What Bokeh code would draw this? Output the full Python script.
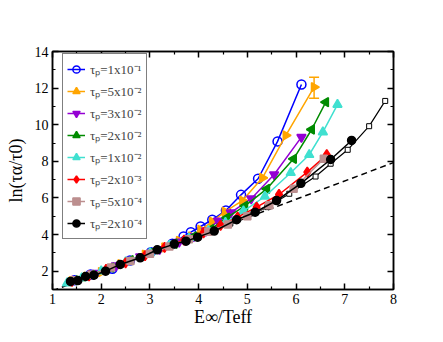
import math
from bokeh.plotting import figure
from bokeh.models import (FixedTicker, LinearAxis, Legend, LegendItem,
                          Range1d, Whisker, ColumnDataSource, TeeHead,
                          CustomJSTickFormatter)
from bokeh.embed import file_html
from bokeh.resources import INLINE

# ---------------- data ----------------
x_1e1 = [1.45, 1.78, 2.23, 2.59, 3.02, 3.46, 3.69, 3.84, 4.04, 4.28, 4.56, 4.87, 5.22, 5.62, 6.11]
y_1e1 = [1.50, 1.82, 2.13, 2.58, 3.04, 3.50, 3.90, 4.13, 4.44, 4.81, 5.32, 6.17, 7.05, 9.09, 12.2]

x_5e2 = [1.40, 1.70, 2.00, 2.40, 2.90, 3.30, 3.60, 3.85, 4.04, 4.28, 4.54, 4.90, 5.31, 5.79, 6.37]
y_5e2 = [1.45, 1.70, 1.95, 2.38, 2.90, 3.30, 3.65, 3.90, 4.26, 4.70, 5.25, 5.86, 7.10, 9.42, 12.05]

x_3e2 = [1.50, 1.90, 2.30, 2.80, 3.20, 3.60, 3.90, 4.15, 4.40, 4.66, 5.08, 5.55, 6.11]
y_3e2 = [1.55, 1.90, 2.30, 2.80, 3.20, 3.60, 3.90, 4.20, 4.75, 5.20, 5.96, 7.28, 9.32]

x_2e2 = [1.45, 1.80, 2.20, 2.60, 3.00, 3.50, 3.90, 4.25, 4.58, 4.95, 5.40, 5.95, 6.32, 6.61]
y_2e2 = [1.50, 1.80, 2.20, 2.60, 3.00, 3.50, 3.90, 4.30, 4.92, 5.57, 6.50, 8.14, 9.74, 11.23]

x_1e2 = [1.30, 1.60, 2.00, 2.50, 3.00, 3.40, 3.80, 4.20, 4.55, 4.92, 5.36, 5.89, 6.27, 6.55, 6.85]
y_1e2 = [1.35, 1.62, 2.00, 2.50, 3.00, 3.40, 3.80, 4.20, 4.65, 5.28, 6.08, 7.38, 8.36, 9.60, 11.1]

x_2e3 = [1.40, 1.75, 2.10, 2.50, 2.90, 3.30, 3.70, 4.10, 4.45, 4.80, 5.19, 5.65, 6.23, 6.63]
y_2e3 = [1.45, 1.75, 2.10, 2.45, 2.85, 3.30, 3.70, 4.10, 4.50, 4.95, 5.50, 6.19, 7.41, 8.36]

x_5e4 = [1.45, 1.80, 2.20, 2.60, 3.00, 3.40, 3.80, 4.20, 4.60, 5.00, 5.45, 5.95, 6.57]
y_5e4 = [1.50, 1.80, 2.20, 2.55, 2.95, 3.35, 3.75, 4.15, 4.55, 5.00, 5.60, 6.50, 8.14]

x_2e4 = [1.37, 1.52, 1.68, 1.85, 2.09, 2.39, 2.80, 3.15, 3.50, 3.74, 3.98, 4.32, 4.78, 5.16, 5.60, 6.10, 6.71, 7.14]
y_2e4 = [1.44, 1.49, 1.71, 1.78, 2.00, 2.37, 2.73, 3.17, 3.48, 3.64, 3.86, 4.19, 4.81, 5.22, 5.86, 6.80, 8.10, 9.14]

x_open = [4.30, 4.65, 5.00, 5.41, 5.86, 6.40, 6.71, 7.06, 7.50, 7.83]
y_open = [4.25, 4.60, 4.98, 5.50, 6.23, 7.17, 7.87, 8.63, 9.92, 11.3]

x_dash = [1.0, 8.0]
y_dash = [0.93, 7.93]

err_x = [6.37]
err_lo = [11.45]
err_hi = [12.6]

labels = ["τₚ=1x10⁻¹", "τₚ=5x10⁻²", "τₚ=3x10⁻²", "τₚ=2x10⁻²",
          "τₚ=1x10⁻²", "τₚ=2x10⁻³", "τₚ=5x10⁻⁴", "τₚ=2x10⁻⁴"]

x_title = "E∞/Teff"
y_title = "ln(τα/τ0)"

x_ticks = [1, 2, 3, 4, 5, 6, 7, 8]
x_minor = [1.5, 2.5, 3.5, 4.5, 5.5, 6.5, 7.5]
y_ticks = [2, 4, 6, 8, 10, 12, 14]
y_minor = [1, 3, 5, 7, 9, 11, 13]

# ---------------- figure ----------------
W, H = 435, 334
BL, BT = 52, 51
FW, FH = 341, 238
BR, BB = W - BL - FW, H - BT - FH
p = figure(width=W, height=H, output_backend="svg", toolbar_location=None,
           x_range=Range1d(1, 8), y_range=Range1d(1, 14),
           min_border_left=BL, min_border_right=BR, min_border_top=BT,
           min_border_bottom=BB, x_axis_location=None, y_axis_location=None)
p.xgrid.visible = False
p.ygrid.visible = False
p.outline_line_color = "black"
p.outline_line_width = 1.5
p.background_fill_color = "white"
p.border_fill_color = "white"

FONT = "Liberation Serif"
blank = CustomJSTickFormatter(code="return ''")

def style_axis(ax, ticks, minor, show_labels):
    ax.ticker = FixedTicker(ticks=ticks, minor_ticks=minor)
    ax.axis_line_width = 1.5
    ax.major_tick_in = 6
    ax.major_tick_out = 0
    ax.minor_tick_in = 3
    ax.minor_tick_out = 0
    ax.major_tick_line_width = 1.5
    ax.minor_tick_line_width = 1.2
    ax.major_label_text_font = FONT
    ax.major_label_text_font_size = "14px"
    ax.major_label_text_color = "black"
    ax.major_label_standoff = 4
    ax.axis_label_text_font = FONT
    ax.axis_label_text_font_size = "18px"
    ax.axis_label_text_font_style = "normal"
    ax.axis_label_text_color = "black"
    if not show_labels:
        ax.formatter = blank

xb = LinearAxis(axis_label=x_title); style_axis(xb, x_ticks, x_minor, True)
xb.axis_label_standoff = 0
p.add_layout(xb, "below")
xt = LinearAxis(); style_axis(xt, x_ticks, x_minor, False); p.add_layout(xt, "above")
yl = LinearAxis(axis_label=y_title); style_axis(yl, y_ticks, y_minor, True)
yl.axis_label_standoff = 6
p.add_layout(yl, "left")
yr = LinearAxis(); style_axis(yr, y_ticks, y_minor, False); p.add_layout(yr, "right")

# dashed reference line
p.line(x_dash, y_dash, line_color="black", line_width=1.5, line_dash="6 4")

# open black series (no legend)
p.line(x_open, y_open, line_color="black", line_width=1.2)
p.scatter(x_open, y_open, marker="square", size=5, fill_color="white",
          line_color="black", line_width=1)

series = [
    (x_1e1, y_1e1, "#0000ff", "circle", 9, 0, False),
    (x_5e2, y_5e2, "#ffa500", "triangle", 9, -math.pi / 2, True),
    (x_3e2, y_3e2, "#9400d3", "inverted_triangle", 9, 0, True),
    (x_2e2, y_2e2, "#008b00", "triangle", 9, math.pi / 2, True),
    (x_1e2, y_1e2, "#40e0d0", "triangle", 9, 0, True),
    (x_2e3, y_2e3, "#ff0000", "diamond", 10, 0, True),
    (x_5e4, y_5e4, "#bc8f8f", "square", 7, 0, True),
    (x_2e4, y_2e4, "#000000", "circle", 8, 0, True),
]

items = []
for (xs, ys, col, mk, sz, ang, filled), lab in zip(series, labels):
    lr = p.line(xs, ys, line_color=col, line_width=1.5)
    sr = p.scatter(xs, ys, marker=mk, size=sz, angle=ang,
                   fill_color=col if filled else None,
                   line_color=col, line_width=1.5)
    items.append(LegendItem(label=lab, renderers=[lr, sr]))

# error bar on the last orange point
esrc = ColumnDataSource(dict(base=err_x, lower=err_lo, upper=err_hi))
p.add_layout(Whisker(source=esrc, base="base", lower="lower", upper="upper",
                     dimension="height", line_color="#ffa500", line_width=1.5,
                     upper_head=TeeHead(size=10, line_color="#ffa500", line_width=1.5),
                     lower_head=TeeHead(size=10, line_color="#ffa500", line_width=1.5)))

legend = Legend(items=items, location=(10, 50), margin=0,
                label_text_font=FONT, label_text_font_size="13px",
                glyph_width=18, glyph_height=22, label_height=22,
                spacing=0, padding=4, label_standoff=5,
                border_line_color="black", border_line_width=1,
                background_fill_color="white", background_fill_alpha=1)
p.add_layout(legend, "center")

open("out.html", "w").write(file_html(p, INLINE))
